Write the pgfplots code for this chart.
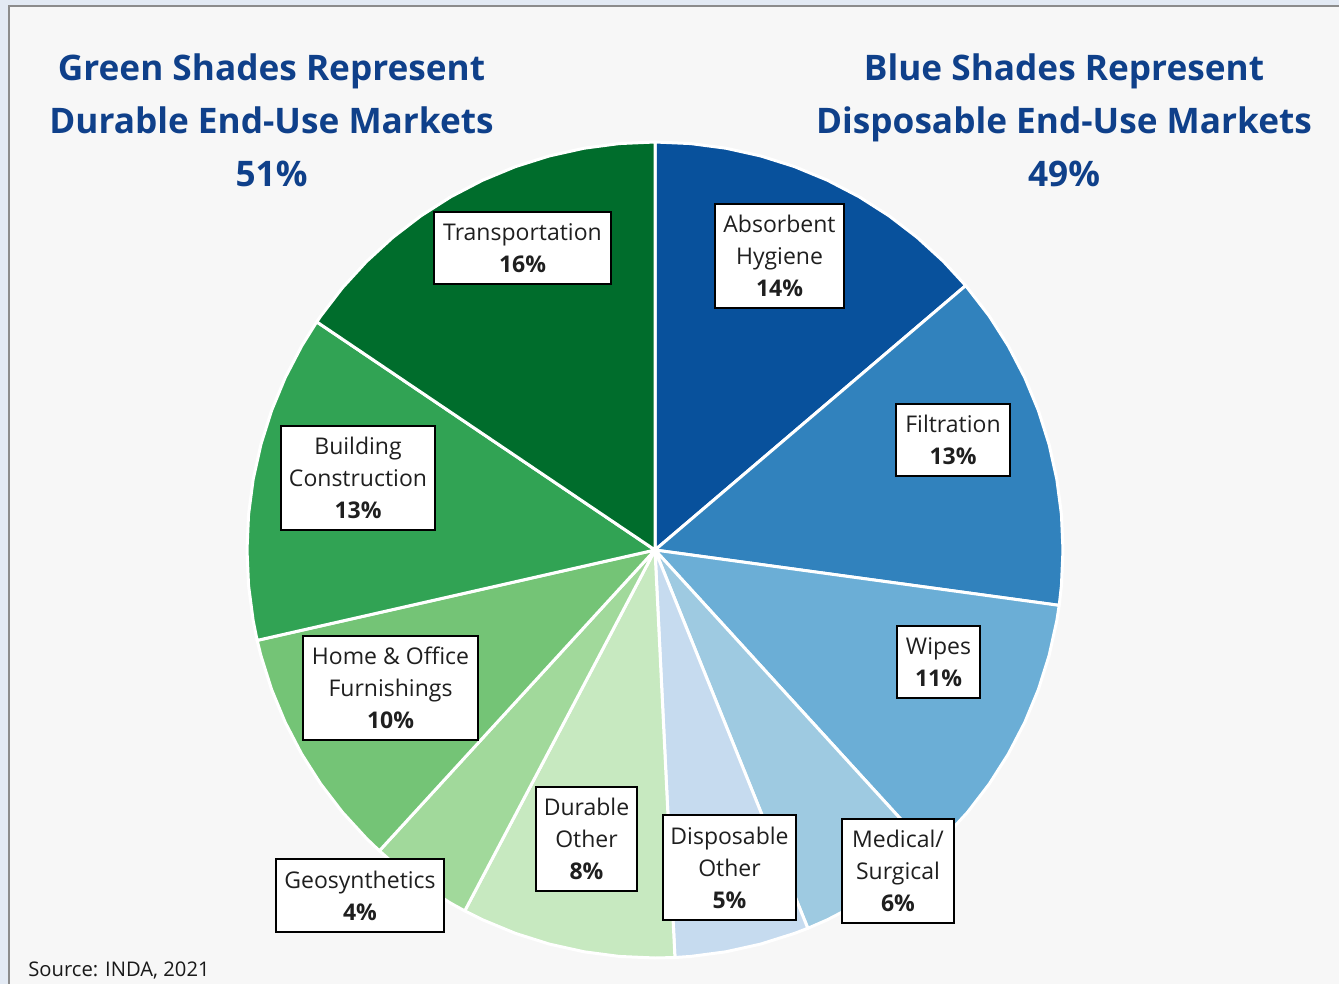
\documentclass[border=0pt]{standalone}
\usepackage{pgfplots}
\pgfplotsset{compat=1.18}
\usepgfplotslibrary{polar}
\usepackage{fontspec}
\setmainfont{Open Sans}
\definecolor{bgblue}{HTML}{E3EAF4}
\definecolor{panel}{HTML}{F7F7F7}
\definecolor{framegray}{HTML}{8C8C8C}
\definecolor{titleblue}{HTML}{0F408A}
\definecolor{labeltext}{HTML}{1F1F1F}
\definecolor{cT}{HTML}{006D2C}
\definecolor{cB}{HTML}{31A354}
\definecolor{cH}{HTML}{74C476}
\definecolor{cG}{HTML}{A1D99B}
\definecolor{cDuO}{HTML}{C7E9C0}
\definecolor{cAH}{HTML}{08519C}
\definecolor{cF}{HTML}{3182BD}
\definecolor{cW}{HTML}{6BAED6}
\definecolor{cM}{HTML}{9ECAE1}
\definecolor{cDO}{HTML}{C6DBEF}
% Shares (percent), clockwise from 12 o'clock:
% Absorbent Hygiene 13.78, Filtration 13.39, Wipes 11.06, Medical/Surgical 5.67,
% Disposable Other 5.33, Durable Other 8.50, Geosynthetics 4.08,
% Home & Office Furnishings 9.64, Building Construction 13.00, Transportation 15.56
\begin{document}
\begin{tikzpicture}
\useasboundingbox (0,0) rectangle (669.5pt,-492pt);
\fill[bgblue] (0,0) rectangle (669.5pt,-492pt);
\fill[panel] (4.5pt,-3pt) rectangle (690pt,-510pt);
\draw[framegray, line width=1pt] (690pt,-3pt) -- (4.5pt,-3pt) -- (4.5pt,-510pt);
\begin{polaraxis}[
  at={(327.5pt,-275pt)}, anchor=center,
  scale only axis, width=408pt, height=408pt,
  hide axis, ymin=0, ymax=1, clip=false,
  every axis plot/.append style={draw=white, line width=1.5pt, line join=round}
]
% Absorbent Hygiene 13.78%
\addplot[fill=cAH, draw=white] coordinates {(0,0) (90,1) (85,1) (80,1) (75,1) (70,1) (65,1) (60,1) (55,1) (50,1) (45,1) (40.4,1) (0,0)} -- cycle;
% Filtration 13.39%
\addplot[fill=cF, draw=white] coordinates {(0,0) (40.4,1) (35,1) (30,1) (25,1) (20,1) (15,1) (10,1) (5,1) (0,1) (-5,1) (-7.8,1) (0,0)} -- cycle;
% Wipes 11.06%
\addplot[fill=cW, draw=white] coordinates {(0,0) (-7.8,1) (-10,1) (-15,1) (-20,1) (-25,1) (-30,1) (-35,1) (-40,1) (-45,1) (-47.6,1) (0,0)} -- cycle;
% Medical/Surgical 5.67%
\addplot[fill=cM, draw=white] coordinates {(0,0) (-47.6,1) (-50,1) (-55,1) (-60,1) (-65,1) (-68,1) (0,0)} -- cycle;
% Disposable Other 5.33%
\addplot[fill=cDO, draw=white] coordinates {(0,0) (-68,1) (-70,1) (-75,1) (-80,1) (-85,1) (-87.2,1) (0,0)} -- cycle;
% Durable Other 8.50%
\addplot[fill=cDuO, draw=white] coordinates {(0,0) (-87.2,1) (-90,1) (-95,1) (-100,1) (-105,1) (-110,1) (-115,1) (-117.8,1) (0,0)} -- cycle;
% Geosynthetics 4.08%
\addplot[fill=cG, draw=white] coordinates {(0,0) (-117.8,1) (-120,1) (-125,1) (-130,1) (-132.5,1) (0,0)} -- cycle;
% Home & Office Furnishings 9.64%
\addplot[fill=cH, draw=white] coordinates {(0,0) (-132.5,1) (-135,1) (-140,1) (-145,1) (-150,1) (-155,1) (-160,1) (-165,1) (-167.2,1) (0,0)} -- cycle;
% Building Construction 13.00%
\addplot[fill=cB, draw=white] coordinates {(0,0) (-167.2,1) (-170,1) (-175,1) (-180,1) (-185,1) (-190,1) (-195,1) (-200,1) (-205,1) (-210,1) (-214,1) (0,0)} -- cycle;
% Transportation 15.56%
\addplot[fill=cT, draw=white] coordinates {(0,0) (-214,1) (-215,1) (-220,1) (-225,1) (-230,1) (-235,1) (-240,1) (-245,1) (-250,1) (-255,1) (-260,1) (-265,1) (-270,1) (0,0)} -- cycle;
\end{polaraxis}
% Titles
\node[align=center, text=titleblue, font=\fontsize{17.6pt}{26.5pt}\selectfont\bfseries] at (135.75pt,-60pt)
  {Green Shades Represent\\Durable End-Use Markets\\51\%};
\node[align=center, text=titleblue, font=\fontsize{17.6pt}{26.5pt}\selectfont\bfseries] at (532pt,-60pt)
  {Blue Shades Represent\\Disposable End-Use Markets\\49\%};
% Labels
\tikzset{lbl/.style={draw=black, line width=0.8pt, fill=white, align=center, text=labeltext,
  inner sep=0pt, font=\fontsize{11.5pt}{16pt}\selectfont}}
\node[lbl, minimum width=88.5pt, minimum height=36pt] at (261.25pt,-124pt) {Transportation\\\textbf{16\%}};
\node[lbl, minimum width=64.5pt, minimum height=52pt] at (389.75pt,-128pt) {Absorbent\\Hygiene\\\textbf{14\%}};
\node[lbl, minimum width=57pt, minimum height=36pt] at (476.5pt,-220pt) {Filtration\\\textbf{13\%}};
\node[lbl, minimum width=41.5pt, minimum height=36pt] at (469.25pt,-331pt) {Wipes\\\textbf{11\%}};
\node[lbl, minimum width=56pt, minimum height=52pt] at (449pt,-435.5pt) {Medical/\\Surgical\\\textbf{6\%}};
\node[lbl, minimum width=66.5pt, minimum height=52.5pt] at (364.75pt,-433.75pt) {Disposable\\Other\\\textbf{5\%}};
\node[lbl, minimum width=50.5pt, minimum height=52pt] at (293.25pt,-419.5pt) {Durable\\Other\\\textbf{8\%}};
\node[lbl, minimum width=84pt, minimum height=36.5pt] at (180pt,-447.75pt) {Geosynthetics\\\textbf{4\%}};
\node[lbl, minimum width=87.5pt, minimum height=52pt] at (195.25pt,-344pt) {Home \& Office\\Furnishings\\\textbf{10\%}};
\node[lbl, minimum width=77pt, minimum height=52pt] at (179pt,-239pt) {Building\\Construction\\\textbf{13\%}};
% Source
\node[anchor=base west, inner sep=0pt, text=black!90, font=\fontsize{10.1pt}{12pt}\selectfont] at (14pt,-488pt) {Source: INDA, 2021};
\end{tikzpicture}
\end{document}
